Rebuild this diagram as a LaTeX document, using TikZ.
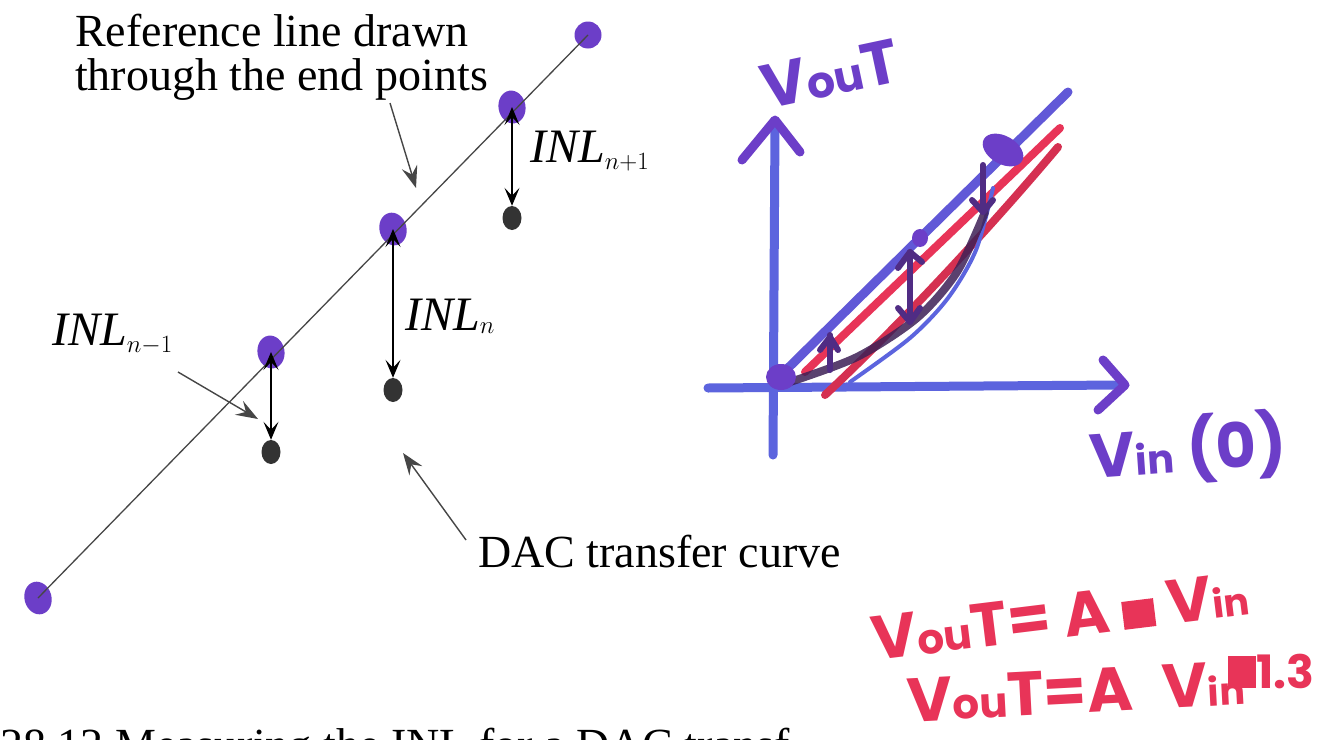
\documentclass[tikz,border=0pt]{standalone}
\usepackage{fontspec}
\setmainfont{Liberation Serif}
\newfontfamily\handfont{Poppins}
\usetikzlibrary{arrows.meta,shapes.geometric}
\definecolor{pdot}{RGB}{108,62,200}
\definecolor{axblue}{RGB}{92,100,222}
\definecolor{mred}{RGB}{232,52,88}
\definecolor{mdark}{RGB}{62,32,86}
\definecolor{refgray}{RGB}{70,70,70}
\begin{document}
\begin{tikzpicture}[x=1pt,y=-1pt,
  purpledot/.style={ellipse,fill=pdot,minimum width=27pt,minimum height=33pt,inner sep=0pt},
  blackdot/.style={ellipse,fill=black!80,minimum width=19pt,minimum height=24pt,inner sep=0pt},
  refline/.style={refgray,line width=1.3pt},
  inlarrow/.style={black,line width=1.4pt,{Stealth[length=18pt,width=15pt,inset=8pt]}-{Stealth[length=18pt,width=15pt,inset=8pt]}},
  callout/.style={refgray,line width=1.4pt,-{Stealth[length=22pt,width=16pt,inset=8pt]}},
  book/.style={font=\fontsize{46}{44}\selectfont,inner sep=0pt},
  inl/.style={font=\fontsize{48}{48}\selectfont,inner sep=0pt},
  marker/.style={line width=9pt,line cap=round,line join=round},
  hand/.style={font=\handfont\bfseries\fontsize{62}{62}\selectfont,inner sep=0pt}
]
\useasboundingbox (0,0) rectangle (1343,739);
\clip (0,0) rectangle (1343,739);
\fill[white] (0,0) rectangle (1343,739);

% ---------- left: textbook figure ----------
\node[purpledot,rotate=15] (p0) at (38,598) {};
\node[purpledot,rotate=10] (p1) at (271,352) {};
\node[purpledot,rotate=15] (p2) at (393,229) {};
\node[purpledot,rotate=10] (p3) at (512,107) {};
\node[purpledot,minimum width=27pt,minimum height=27pt] (p4) at (588,35) {};
\node[blackdot] (b1) at (271,452) {};
\node[blackdot] (b2) at (393,390) {};
\node[blackdot] (b3) at (512,218) {};

\draw[refline] (p0.center) -- (p4.center);

\draw[inlarrow] (p1.center) -- (b1.north);
\draw[inlarrow] (p2.center) -- (b2.north);
\draw[inlarrow] (p3.center) -- (b3.north);

\node[book,anchor=north west,align=left] (reftxt) at (75,14)
  {Reference line drawn\\through the end points};
\node[inl,anchor=base west] (inl3) at (530,162) {\textit{INL}$_{n+1}$};
\node[inl,anchor=base west] (inl2) at (405,330) {\textit{INL}$_{n}$};
\node[inl,anchor=base west] (inl1) at (52,345) {\textit{INL}$_{n-1}$};
\node[book,anchor=base west] (dac) at (478,567) {DAC transfer curve};
\node[book,anchor=base west] (cap) at (0,760) {28.12 Measuring the INL for a DAC transf};

\coordinate (c1s) at (390,103);
\coordinate (c1e) at (416,188);
\coordinate (c2s) at (178,372);
\coordinate (c2e) at (258,419);
\coordinate (c3s) at (466,540);
\coordinate (c3e) at (403,453);
\draw[callout] (c1s) -- (c1e);
\draw[callout] (c2s) -- (c2e);
\draw[callout] (c3s) -- (c3e);

% ---------- right: hand-drawn sketch ----------
\draw[marker,axblue] (773,455) -- (775,122);
\draw[marker,pdot] (742,160) -- (775,120) -- (800,152);
\draw[marker,axblue] (708,388) -- (1120,385);
\draw[marker,pdot] (1103,360) -- (1125,385) -- (1098,410);

\draw[marker,axblue!70!pdot] (783,373) -- (1068,92);
\draw[marker,mred,line width=8pt] (805,372) .. controls (880,300) and (985,200) .. (1060,128);
\draw[marker,mred!92!black,line width=8pt] (825,395) .. controls (905,320) and (995,222) .. (1058,147);
\draw[axblue,line width=4pt,line cap=round] plot[smooth] coordinates {(850,382) (910,338) (948,298) (976,250) (993,188)};
\draw[marker,mdark,line width=8pt,opacity=0.85] plot[smooth] coordinates {(787,383) (857,357) (917,318) (957,272) (985,212)};

\draw[marker,mdark!60!pdot,line width=6pt] (830,335) -- (830,370);
\draw[marker,mdark!60!pdot,line width=6pt] (820,350) -- (830,337) -- (838,350);
\draw[marker,mdark!60!pdot,line width=6pt] (910,252) -- (910,322);
\draw[marker,mdark!60!pdot,line width=6pt] (898,268) -- (910,252) -- (922,262);
\draw[marker,mdark!60!pdot,line width=6pt] (898,308) -- (910,322) -- (920,308);
\draw[marker,mdark!60!pdot,line width=6pt] (983,165) -- (983,212);
\draw[marker,mdark!60!pdot,line width=6pt] (972,200) -- (983,212) -- (993,200);

\fill[pdot] (781,377) ellipse [x radius=15, y radius=13];
\fill[pdot,rotate around={-30:(1003,150)}] (1003,150) ellipse [x radius=22, y radius=14];
\fill[pdot] (920,238) ellipse [x radius=8, y radius=9];

\node[hand,text=pdot,rotate=12] (vout) at (830,74) {V{\fontsize{44}{44}\selectfont ou}T};
\node[hand,text=pdot,rotate=4] (vin) at (1188,450) {V{\fontsize{40}{40}\selectfont in} (0)};

\node[hand,text=mred,rotate=7] (eq1) at (1060,616)
  {V{\fontsize{42}{42}\selectfont ou}T= A \rule{32pt}{28pt} V{\fontsize{38}{38}\selectfont in}};
\node[hand,text=mred,rotate=3,anchor=base west] (eq2) at (908,722)
  {V{\fontsize{42}{42}\selectfont ou}T=A\hspace{30pt}V{\fontsize{38}{38}\selectfont in}};
\node[hand,text=mred,font=\handfont\bfseries\fontsize{46}{46}\selectfont,anchor=base west] (eq2sup) at (1228,688)
  {\rule{28pt}{32pt}1.3};
\end{tikzpicture}
\end{document}
